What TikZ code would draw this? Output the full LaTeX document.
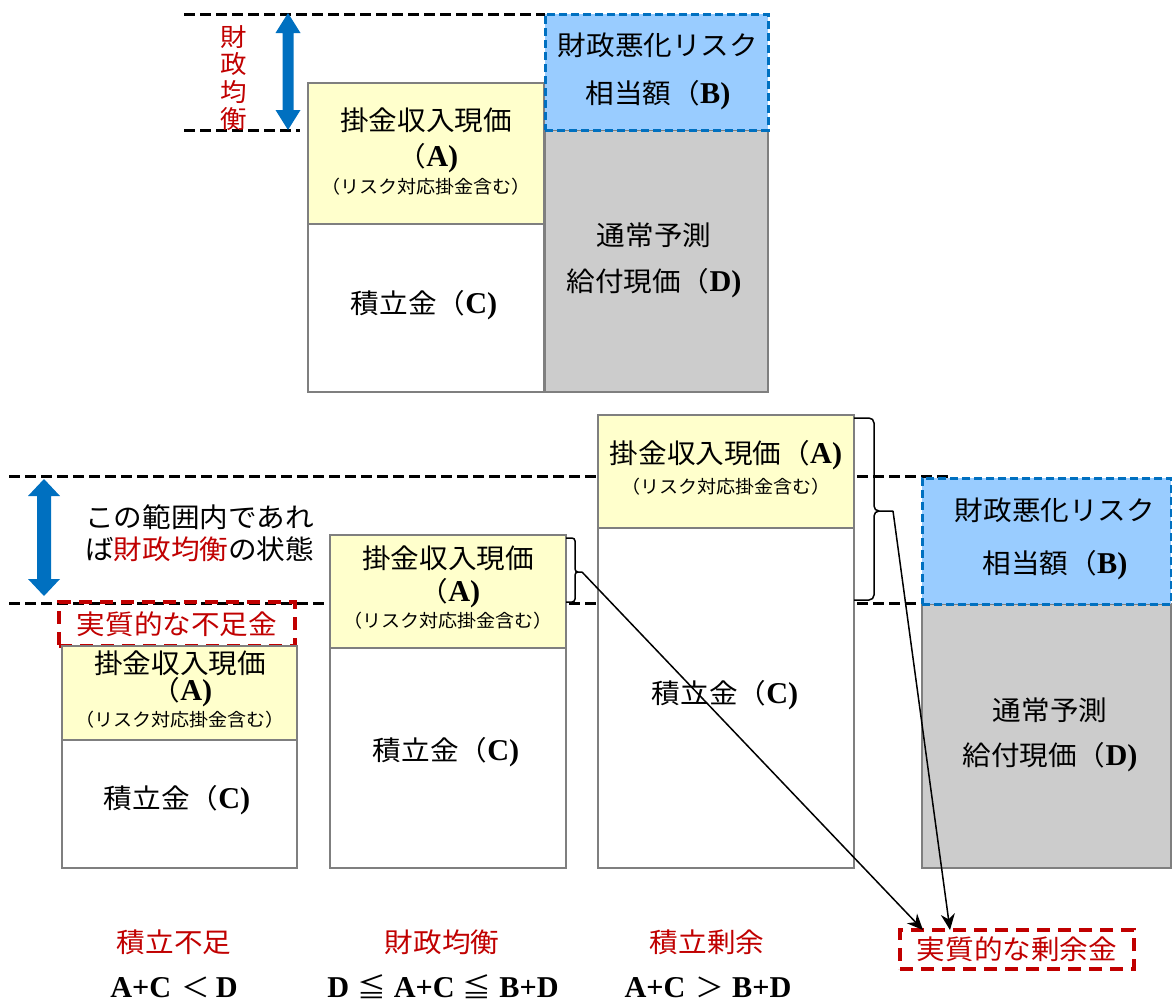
\documentclass[tikz,border=0pt]{standalone}
\usepackage{fontspec}
\setmainfont{Noto Sans CJK JP}[FakeStretch=1.06]
\newfontfamily\latf{Liberation Serif}[Scale=1.12]
\usetikzlibrary{arrows.meta}
\definecolor{bordergray}{HTML}{7F7F7F}
\definecolor{yel}{HTML}{FFFFCC}
\definecolor{lblue}{HTML}{99CCFF}
\definecolor{dblue}{HTML}{0070C0}
\definecolor{dred}{HTML}{C00000}
\definecolor{gfill}{HTML}{CCCCCC}
\newcommand{\ltr}[1]{{\latf\bfseries #1}}
\tikzset{
  box/.style={draw=bordergray, line width=2pt, anchor=north west, inner sep=0pt, outer sep=0pt},
  bbox/.style={draw=dblue, line width=3pt, dash pattern=on 8pt off 4pt, fill=lblue, anchor=north west, inner sep=0pt, outer sep=0pt},
  rbox/.style={draw=dred, line width=3.5pt, dash pattern=on 13pt off 8pt, anchor=north west, inner sep=0pt, outer sep=0pt, text=dred, font=\fontsize{27}{30}\selectfont},
  bdash/.style={black, line width=3pt, dash pattern=on 11pt off 5pt},
  t/.style={inner sep=0pt, font=\fontsize{27}{30}\selectfont},
  ts/.style={inner sep=0pt, font=\fontsize{18}{20}\selectfont},
  tr/.style={inner sep=0pt, font=\fontsize{27}{30}\selectfont, text=dred},
  conn/.style={line width=1.5pt, -{Stealth[length=16pt,width=14pt]}},
  brace/.style={line width=1.5pt}
}
\begin{document}
\begin{tikzpicture}[x=1pt,y=-1pt]
\useasboundingbox (0,0) rectangle (1172,1002);

% ---------- top diagram ----------
\draw[bdash] (184,14) -- (545,14);
\draw[bdash] (184,130) -- (300,130);
\fill[dblue] (282.5,33) -- (275.5,33) -- (288,13) -- (300.5,33) -- (293.5,33) -- (293.5,110) -- (300.5,110) -- (288,130) -- (275.5,110) -- (282.5,110) -- cycle;
\node[tr, align=center, font=\fontsize{25}{27.3}\selectfont] (zk0) at (234,78) {財\\政\\均\\衡};

\node[box, fill=yel, minimum width=236pt, minimum height=141pt] (A0) at (308,83) {};
\node[box, fill=white, minimum width=236pt, minimum height=168pt] (C0) at (308,224) {};
\node[box, fill=gfill, minimum width=223pt, minimum height=262pt] (D0) at (545,130) {};
\node[bbox, minimum width=223pt, minimum height=116pt] (B0) at (545,14) {};

\node[t] (A0t1) at (426,120) {掛金収入現価};
\node[t] (A0t2) at (428,158) {（\ltr{A)}};
\node[ts] (A0t3) at (426,187) {（リスク対応掛金含む）};
\node[t] (C0t) at (424,305) {積立金（\ltr{C)}};
\node[t] (B0t1) at (658,45) {財政悪化リスク};
\node[t] (B0t2) at (658,95) {相当額（\ltr{B)}};
\node[t] (D0t1) at (654,235) {通常予測};
\node[t] (D0t2) at (654,283) {給付現価（\ltr{D)}};

% ---------- bottom diagram ----------
\draw[bdash] (9,476) -- (948,476);
\draw[bdash] (9,603) -- (923,603);
\fill[dblue] (37,496) -- (28,496) -- (44,479) -- (60,496) -- (51,496) -- (51,579) -- (60,579) -- (44,596) -- (28,579) -- (37,579) -- cycle;
\node[t, align=left, anchor=west, font=\fontsize{27}{32}\selectfont] (rng) at (85,533) {この範囲内であれ\\ば\textcolor{dred}{財政均衡}の状態};

\node[rbox, minimum width=236pt, minimum height=44pt] (short) at (59,602) {実質的な不足金};

% box 1
\node[box, fill=yel, minimum width=235pt, minimum height=94pt] (A1) at (62,646) {};
\node[box, fill=white, minimum width=235pt, minimum height=128pt] (C1) at (62,740) {};
\node[t] (A1t1) at (180,663) {掛金収入現価};
\node[t] (A1t2) at (182,692) {（\ltr{A)}};
\node[ts] (A1t3) at (180,720) {（リスク対応掛金含む）};
\node[t] (C1t) at (177,800) {積立金（\ltr{C)}};

% box 2
\node[box, fill=yel, minimum width=236pt, minimum height=113pt] (A2) at (330,535) {};
\node[box, fill=white, minimum width=236pt, minimum height=220pt] (C2) at (330,648) {};
\node[t] (A2t1) at (448,558) {掛金収入現価};
\node[t] (A2t2) at (450,593) {（\ltr{A)}};
\node[ts] (A2t3) at (448,621) {（リスク対応掛金含む）};
\node[t] (C2t) at (446,752) {積立金（\ltr{C)}};

% box 3
\node[box, fill=yel, minimum width=256pt, minimum height=113pt] (A3) at (598,415) {};
\node[box, fill=white, minimum width=256pt, minimum height=340pt] (C3) at (598,528) {};
\node[t] (A3t1) at (726,455) {掛金収入現価（\ltr{A)}};
\node[ts] (A3t2) at (726,487) {（リスク対応掛金含む）};
\node[t] (C3t) at (725,695) {積立金（\ltr{C)}};

% box 4
\node[box, fill=gfill, minimum width=249pt, minimum height=264pt] (D4) at (922,604) {};
\node[bbox, minimum width=249pt, minimum height=126pt] (B4) at (922,478) {};
\node[t] (B4t1) at (1055,510) {財政悪化リスク};
\node[t] (B4t2) at (1055,565) {相当額（\ltr{B)}};
\node[t] (D4t1) at (1050,710) {通常予測};
\node[t] (D4t2) at (1050,757) {給付現価（\ltr{D)}};

% braces
\draw[brace] (566,538) -- (572,538) to[out=0,in=90] (575,541) -- (575,569) to[out=-90,in=180] (578,572) -- (582,572);
\draw[brace] (578,572) to[out=180,in=90] (575,575) -- (575,599) to[out=-90,in=0] (572,602) -- (566,602);
\coordinate (b1) at (582,572);
\draw[brace] (854,418) -- (869,418) to[out=0,in=90] (874,423) -- (874,506) to[out=-90,in=180] (879,511) -- (893,511);
\draw[brace] (879,511) to[out=180,in=90] (874,516) -- (874,595) to[out=-90,in=0] (869,600) -- (854,600);
\coordinate (b2) at (893,511);

% surplus box
\node[rbox, minimum width=234pt, minimum height=39pt] (surplus) at (900,930) {実質的な剰余金};
\coordinate (s1) at (923,930);
\coordinate (s2) at (950,930);
\draw[conn] (b1) -- (s1);
\draw[conn] (b2) -- (s2);

% bottom labels
\node[tr] (l1) at (174,942) {積立不足};
\node[tr] (l2) at (442,942) {財政均衡};
\node[tr] (l3) at (707,942) {積立剰余};
\node[t, anchor=base] (f1) at (174,997) {\ltr{A+C}\hspace{10pt}＜\hspace{6pt}\ltr{D}};
\node[t, anchor=base] (f2) at (443,997) {\ltr{D}\hspace{8pt}≦\hspace{8pt}\ltr{A+C}\hspace{8pt}≦\hspace{8pt}\ltr{B+D}};
\node[t, anchor=base] (f3) at (708,997) {\ltr{A+C}\hspace{10pt}＞\hspace{8pt}\ltr{B+D}};
\end{tikzpicture}
\end{document}
